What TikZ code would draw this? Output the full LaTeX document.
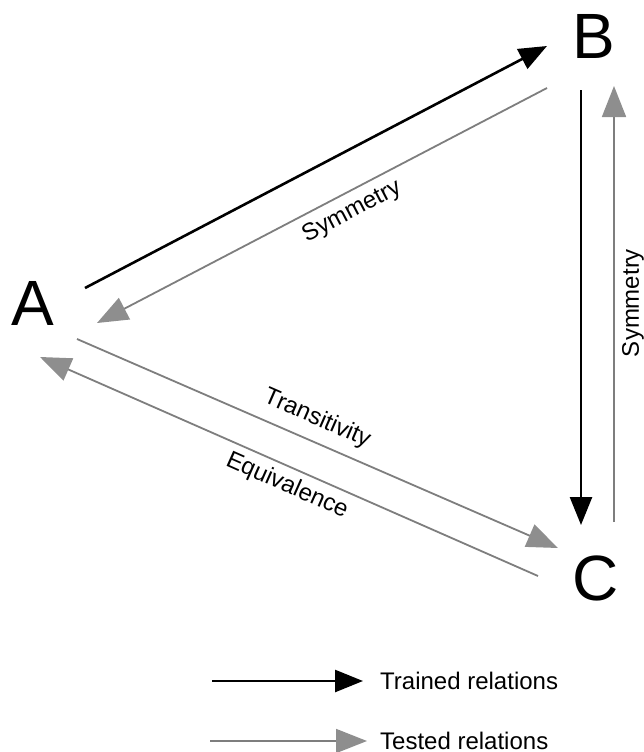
\documentclass[tikz,border=0pt]{standalone}
\usepackage{fontspec}
\setmainfont{Liberation Sans}
\usetikzlibrary{arrows.meta}
\definecolor{tested}{HTML}{7E7E7E}
\definecolor{testedhead}{HTML}{8E8E8E}
\tikzset{
  letter/.style={inner sep=0pt, font=\fontsize{64}{64}\selectfont},
  rel/.style={inner sep=0pt, font=\fontsize{24}{24}\selectfont},
  trained/.style={line width=2.6pt, black,
    -{Triangle[length=28pt,width=22pt]}},
  testedrel/.style={line width=1.8pt, tested,
    -{Triangle[length=31pt,width=24pt,color=testedhead]}},
}
\begin{document}
\begin{tikzpicture}[x=1pt,y=-1pt]
\useasboundingbox (0,0) rectangle (644,752);

% stimulus classes
\node[letter] (A) at (33,303.5) {A};
\node[letter] (B) at (593.5,36) {B};
\node[letter] (C) at (595.5,578) {C};

% end points of the relation arrows
\coordinate (ab1) at (85,288);
\coordinate (ab2) at (547,46);
\coordinate (ba1) at (547,88);
\coordinate (ba2) at (97,323);
\coordinate (bc1) at (581,90);
\coordinate (bc2) at (581,525);
\coordinate (cb1) at (614,522);
\coordinate (cb2) at (614,86);
\coordinate (ac1) at (77,339);
\coordinate (ac2) at (558,548);
\coordinate (ca1) at (538,576);
\coordinate (ca2) at (40,357);

% trained relations
\draw[trained] (ab1) -- (ab2);
\draw[trained] (bc1) -- (bc2);

% tested relations
\draw[testedrel] (ba1) -- (ba2);
\draw[testedrel] (cb1) -- (cb2);
\draw[testedrel] (ac1) -- (ac2);
\draw[testedrel] (ca1) -- (ca2);

% relation labels
\node[rel, rotate=27.6] (symab) at (352,212) {Symmetry};
\node[rel, rotate=90] (symbc) at (633,303) {Symmetry};
\node[rel, rotate=-23.6] (trans) at (317,419) {Transitivity};
\node[rel, rotate=-24] (equiv) at (287,486) {Equivalence};

% legend
\coordinate (k1s) at (212,681);
\coordinate (k1e) at (363,681);
\coordinate (k2s) at (210,741);
\coordinate (k2e) at (367,741);
\draw[trained] (k1s) -- (k1e);
\draw[testedrel] (k2s) -- (k2e);
\node[rel, anchor=west] (keytrained) at (380,681) {Trained relations};
\node[rel, anchor=west] (keytested) at (380,741) {Tested relations};
\end{tikzpicture}
\end{document}
